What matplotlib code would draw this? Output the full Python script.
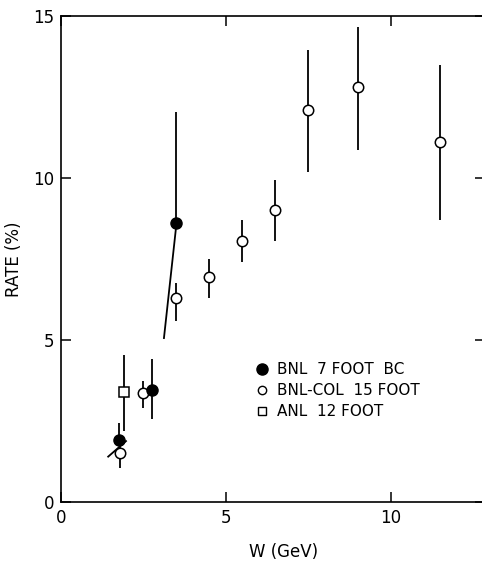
import matplotlib
matplotlib.use("Agg")
import matplotlib.pyplot as plt
import numpy as np

# BNL 7 foot BC (filled circles)
w_bnl7 = [1.75, 2.75, 3.5]
rate_bnl7 = [1.9, 3.45, 8.6]
err_lo_bnl7 = [0.0, 0.9, 0.0]
err_hi_bnl7 = [0.55, 0.95, 3.45]

# BNL-COL 15 foot (open circles)
w_col = [1.8, 2.5, 3.5, 4.5, 5.5, 6.5, 7.5, 9.0, 11.5]
rate_col = [1.5, 3.35, 6.3, 6.95, 8.05, 9.0, 12.1, 12.8, 11.1]
err_col_lo = [0.45, 0.45, 0.7, 0.65, 0.65, 0.95, 1.9, 1.95, 2.4]
err_col_hi = [0.4, 0.4, 0.45, 0.55, 0.65, 0.95, 1.85, 1.85, 2.4]

# ANL 12 foot (open square)
w_anl = [1.9]
rate_anl = [3.4]
err_anl_lo = [1.2]
err_anl_hi = [1.15]

# short curve segments drawn through the data
seg1_w = [1.43, 1.97]
seg1_r = [1.4, 1.88]
seg2_w = [3.12, 3.5]
seg2_r = [5.06, 8.6]

legend_labels = ["BNL  7 FOOT  BC", "BNL-COL  15 FOOT", "ANL  12 FOOT"]

plt.rcParams['font.family'] = ['DejaVu Sans']
fig = plt.figure(figsize=(4.82, 5.63), dpi=100)
ax = fig.add_axes([61/482, 1 - 502/563, (485 - 61)/482, (502 - 16)/563])

lw = 1.3
ax.plot(seg1_w, seg1_r, color='black', lw=lw)
ax.plot(seg2_w, seg2_r, color='black', lw=lw)

ax.errorbar(w_col, rate_col, yerr=[err_col_lo, err_col_hi], fmt='o', ms=7.5,
            mfc='white', mec='black', mew=1.1, ecolor='black', elinewidth=lw,
            capsize=0, zorder=3)
ax.errorbar(w_anl, rate_anl, yerr=[err_anl_lo, err_anl_hi], fmt='s', ms=7,
            mfc='white', mec='black', mew=1.1, ecolor='black', elinewidth=lw,
            capsize=0, zorder=3)
ax.errorbar(w_bnl7, rate_bnl7, yerr=[err_lo_bnl7, err_hi_bnl7], fmt='o', ms=8,
            mfc='black', mec='black', ecolor='black', elinewidth=lw,
            capsize=0, zorder=4)

ax.set_xlim(0, 12.85)
ax.set_ylim(0, 15)
ax.set_xticks([0, 5, 10])
ax.set_yticks([0, 5, 10, 15])
ax.tick_params(direction='in', length=7, width=1.1, labelsize=12,
               top=True, right=True, pad=5)
for s in ax.spines.values():
    s.set_linewidth(1.2)
ax.spines['right'].set_visible(False)

ax.set_ylabel("RATE (%)", fontsize=12)
ax.yaxis.set_label_coords(-0.09, 0.5)
ax.set_xlabel("W (GeV)", fontsize=12)
ax.xaxis.set_label_coords(0.525, -0.084)

# legend drawn by hand
lx_mark = 6.1
lx_text = 6.55
ly = [4.1, 3.45, 2.8]
ax.plot(lx_mark, ly[0], 'o', ms=8, mfc='black', mec='black')
ax.plot(lx_mark, ly[1], 'o', ms=6, mfc='white', mec='black', mew=1.0)
ax.plot(lx_mark, ly[2], 's', ms=6, mfc='white', mec='black', mew=1.0)
for y, lab in zip(ly, legend_labels):
    ax.text(lx_text, y, lab, fontsize=11, va='center', ha='left')

fig.savefig("out.png", dpi=100)
